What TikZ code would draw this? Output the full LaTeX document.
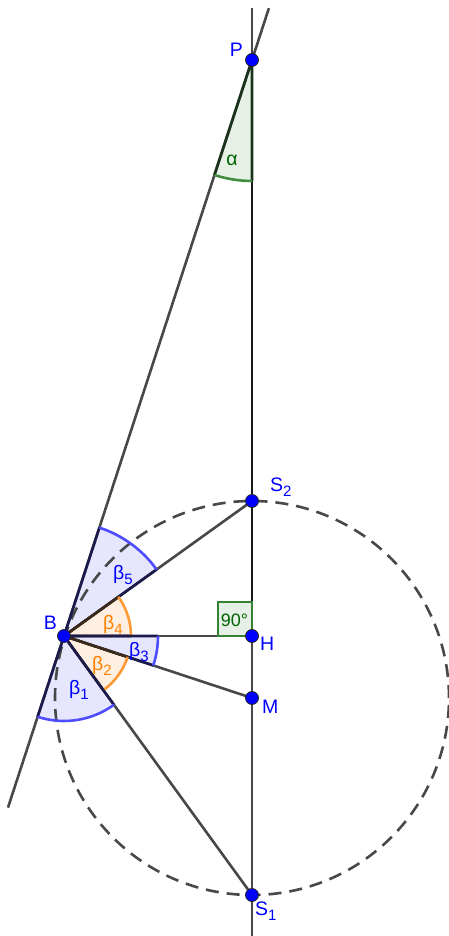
\documentclass[tikz,border=0pt]{standalone}
\usepackage{fontspec}
\setmainfont{Liberation Sans}
\usepackage{xcolor}
\usepackage{tikz}
\usetikzlibrary{positioning,calc}
\definecolor{ptblue}{HTML}{0000FF}
\definecolor{arcblue}{HTML}{4D4DFF}
\definecolor{fillblue}{HTML}{E6E6FF}
\definecolor{edgeblue}{HTML}{1A1A4D}
\definecolor{arcorange}{HTML}{FF9933}
\definecolor{fillorange}{HTML}{FFEFE0}
\definecolor{edgeorange}{HTML}{3D2B1A}
\definecolor{txtorange}{HTML}{FF8000}
\definecolor{arcgreen}{HTML}{3E8E3E}
\definecolor{fillgreen}{HTML}{E6F0E6}
\definecolor{edgegreen}{HTML}{1A331A}
\definecolor{txtgreen}{HTML}{006400}
\definecolor{linegray}{HTML}{484848}
\newcommand{\ssub}[1]{\raisebox{-5pt}{\fontsize{15}{15}\selectfont #1}}
\newcommand{\angfill}[5]{\fill[#5] (#1) -- ++(#2:#4) arc[start angle=#2, end angle=#3, radius=#4] -- cycle;}
\newcommand{\angedge}[6]{%
  \draw[draw=#5, line width=2.6pt] (#1) -- ++(#2:#4) (#1) -- ++(#3:#4);
  \draw[draw=#6, line width=2.6pt] ($(#1)+(#2:#4)$) arc[start angle=#2, end angle=#3, radius=#4];}
\tikzset{
  geoline/.style={draw=linegray, line width=2.6pt},
  darkline/.style={draw=black!90, line width=2.8pt},
  dashcircle/.style={draw=linegray, line width=2.6pt, dash pattern=on 13pt off 8pt},
  ptdot/.style={circle, fill=ptblue, draw=black!85, line width=0.8pt, inner sep=0pt, minimum size=13pt},
  ptlbl/.style={text=ptblue, inner sep=0pt, font=\fontsize{19.5}{19.5}\selectfont},
  anglbl/.style={inner sep=0pt, font=\fontsize{19.5}{19.5}\selectfont},
}

\begin{document}
\begin{tikzpicture}[x=1pt, y=1pt]
\useasboundingbox (0,0) rectangle (448,936);
\coordinate (M) at (252,238);
\coordinate (S1) at (252,41);
\coordinate (S2) at (252,435);
\coordinate (H) at (252,300);
\coordinate (P) at (252,876);
\coordinate (B) at (64,300);
\coordinate (Vtop) at (252,928);
\coordinate (Vbot) at (252,0);
\coordinate (Ltop) at ($(B)!1.09!(P)$);
\coordinate (Lbot) at ($(B)!-0.298!(P)$);

\angfill{B}{35.7}{71.9}{114}{fillblue}
\angfill{B}{0}{35.7}{67}{fillorange}
\angfill{B}{-18.25}{0}{94}{fillblue}
\angfill{B}{-54}{-18.25}{67}{fillorange}
\angfill{B}{-108.1}{-54}{85}{fillblue}
\angfill{P}{-108.1}{-90}{121}{fillgreen}
\fill[fillgreen] (H) rectangle ++(-34,34);

\draw[dashcircle] (M) circle[radius=197];

\draw[geoline] (Vbot) -- (Vtop);
\draw[geoline] (Lbot) -- (Ltop);
\draw[darkline] (P) -- (H);
\draw[geoline] (B) -- (S2);
\draw[geoline] (B) -- (H);
\draw[geoline] (B) -- (M);
\draw[geoline] (B) -- (S1);

\angedge{B}{35.7}{71.9}{114}{edgeblue}{arcblue}
\angedge{B}{0}{35.7}{67}{edgeorange}{arcorange}
\angedge{B}{-18.25}{0}{94}{edgeblue}{arcblue}
\angedge{B}{-54}{-18.25}{67}{edgeorange}{arcorange}
\angedge{B}{-108.1}{-54}{85}{edgeblue}{arcblue}
\angedge{P}{-108.1}{-90}{121}{edgegreen}{arcgreen}
\draw[draw=txtgreen!80, line width=2.2pt] (H) rectangle ++(-34,34);

\node[ptdot] (dP) at (P) {};
\node[ptdot] (dS2) at (S2) {};
\node[ptdot] (dH) at (H) {};
\node[ptdot] (dM) at (M) {};
\node[ptdot] (dS1) at (S1) {};
\node[ptdot] (dB) at (B) {};

\node[ptlbl, above left=3pt and 9pt of P] (lP) {P};
\node[ptlbl, above right=4pt and 18pt of S2] (lS2) {S\ssub{2}};
\node[ptlbl, anchor=west] (lH) at ($(H)+(8,-8)$) {H};
\node[ptlbl, below right=2pt and 10pt of M] (lM) {M};
\node[ptlbl, below right=7pt and 3pt of S1] (lS1) {S\ssub{1}};
\node[ptlbl, above left=6pt and 7pt of B] (lB) {B};

\node[anglbl, text=txtgreen] (la) at (232,776) {α};
\node[anglbl, text=ptblue] (lb5) at (123,361) {β\ssub{5}};
\node[anglbl, text=txtorange] (lb4) at (113,311) {β\ssub{4}};
\node[anglbl, text=ptblue] (lb3) at (139,284) {β\ssub{3}};
\node[anglbl, text=txtorange] (lb2) at (102,270) {β\ssub{2}};
\node[anglbl, text=ptblue] (lb1) at (79,246) {β\ssub{1}};
\node[anglbl, text=txtgreen, font=\fontsize{18}{18}\selectfont] (l90) at (234.5,316) {90°};
\end{tikzpicture}
\end{document}
